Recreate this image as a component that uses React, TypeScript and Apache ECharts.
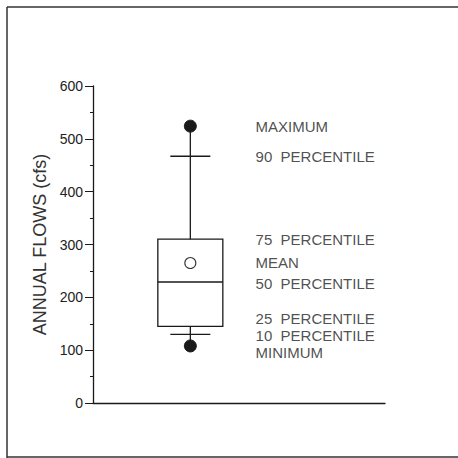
import React, { useEffect, useRef } from "react";
import * as echarts from "echarts";

// Box-plot statistics (cfs)
const boxX = [1];
const minimum = [108];
const p10 = [130];
const q1 = [145];
const median = [229];
const q3 = [310];
const p90 = [467];
const maximum = [524];
const mean = [265];

// Explanatory labels and the flow level each one sits at
const labelNames = [
  "MAXIMUM",
  "90  PERCENTILE",
  "75  PERCENTILE",
  "MEAN",
  "50  PERCENTILE",
  "25  PERCENTILE",
  "10  PERCENTILE",
  "MINIMUM",
];
const labelLevels = [524, 467, 310, 265, 227, 159, 127, 95];
const labelColumn = 1.67;

const yTicks = [0, 100, 200, 300, 400, 500, 600];

export default function App() {
  const ref = useRef<HTMLDivElement>(null);

  useEffect(() => {
    if (!ref.current) return;
    const chart = echarts.init(ref.current, null, { renderer: "svg" });
    const font = "'Liberation Sans', Arial, Helvetica, sans-serif";
    const ink = "#1a1a1a";

    const boxData = boxX.map((x, i) => [
      x,
      minimum[i],
      p10[i],
      q1[i],
      median[i],
      q3[i],
      p90[i],
      maximum[i],
      mean[i],
    ]);

    const frame = { stroke: "#333", lineWidth: 1.5 };
    const option: any = {
      animation: false,
      backgroundColor: "#ffffff",
      graphic: [
        { type: "line", silent: true, shape: { x1: 7, y1: 7, x2: 458, y2: 7 }, style: frame },
        { type: "line", silent: true, shape: { x1: 7, y1: 7, x2: 7, y2: 458 }, style: frame },
        { type: "line", silent: true, shape: { x1: 7, y1: 457, x2: 458, y2: 457 }, style: frame },
      ],
      grid: { left: 93, right: 73, top: 86, bottom: 55 },
      xAxis: {
        type: "value",
        min: 0,
        max: 3,
        axisLine: { show: true, onZero: false, lineStyle: { color: ink, width: 1.3 } },
        axisTick: { show: false },
        axisLabel: { show: false },
        splitLine: { show: false },
      },
      yAxis: {
        type: "value",
        min: yTicks[0],
        max: yTicks[yTicks.length - 1],
        interval: 100,
        name: "ANNUAL FLOWS (cfs)",
        nameLocation: "middle",
        nameRotate: 90,
        nameGap: 41,
        nameTextStyle: { fontFamily: font, fontSize: 18, color: "#333" },
        axisLine: { show: true, lineStyle: { color: ink, width: 1.3 } },
        axisTick: { show: true, length: 8, lineStyle: { color: ink, width: 1 } },
        minorTick: { show: true, splitNumber: 2, length: 3, lineStyle: { color: ink, width: 1 } },
        axisLabel: { fontFamily: font, fontSize: 14, color: "#222", margin: 10 },
        splitLine: { show: false },
        minorSplitLine: { show: false },
      },
      series: [
        {
          type: "custom",
          data: boxData,
          encode: { x: 0, y: [1, 2, 3, 4, 5, 6, 7, 8] },
          clip: false,
          renderItem: (params: any, api: any) => {
            const x = api.value(0);
            const pt = (v: number) => api.coord([x, v]);
            const pMin = pt(api.value(1));
            const p10p = pt(api.value(2));
            const pQ1 = pt(api.value(3));
            const pMed = pt(api.value(4));
            const pQ3 = pt(api.value(5));
            const p90p = pt(api.value(6));
            const pMax = pt(api.value(7));
            const pMean = pt(api.value(8));
            const cx = pMed[0];
            const halfBox = 32.5;
            const halfCap = 20;
            const ls = { stroke: ink, lineWidth: 1.3, fill: "none" };
            return {
              type: "group",
              children: [
                {
                  type: "rect",
                  shape: { x: cx - halfBox, y: pQ3[1], width: halfBox * 2, height: pQ1[1] - pQ3[1] },
                  style: ls,
                },
                { type: "line", shape: { x1: cx - halfBox, y1: pMed[1], x2: cx + halfBox, y2: pMed[1] }, style: ls },
                { type: "line", shape: { x1: cx, y1: pQ3[1], x2: cx, y2: pMax[1] }, style: ls },
                { type: "line", shape: { x1: cx, y1: pQ1[1], x2: cx, y2: pMin[1] }, style: ls },
                { type: "line", shape: { x1: cx - halfCap, y1: p90p[1], x2: cx + halfCap, y2: p90p[1] }, style: ls },
                { type: "line", shape: { x1: cx - halfCap, y1: p10p[1], x2: cx + halfCap, y2: p10p[1] }, style: ls },
                { type: "circle", shape: { cx, cy: pMax[1], r: 6 }, style: { fill: ink, stroke: ink } },
                { type: "circle", shape: { cx, cy: pMin[1], r: 6 }, style: { fill: ink, stroke: ink } },
                { type: "circle", shape: { cx, cy: pMean[1], r: 5.5 }, style: { fill: "#fff", stroke: "#333", lineWidth: 1.1 } },
              ],
            };
          },
        },
        {
          type: "scatter",
          symbolSize: 0,
          silent: true,
          data: labelNames.map((n, i) => ({ name: n, value: [labelColumn, labelLevels[i]] })),
          label: {
            show: true,
            position: "right",
            distance: 0,
            formatter: "{b}",
            fontFamily: font,
            fontSize: 15,
            lineHeight: 13,
            color: "#222",
          },
          labelLayout: { hideOverlap: false },
        },
      ],
    };
    chart.setOption(option);
    return () => chart.dispose();
  }, []);

  return (
    <div
      ref={ref}
      style={{ position: "fixed", left: 0, top: 0, width: 458, height: 458 }}
    />
  );
}
